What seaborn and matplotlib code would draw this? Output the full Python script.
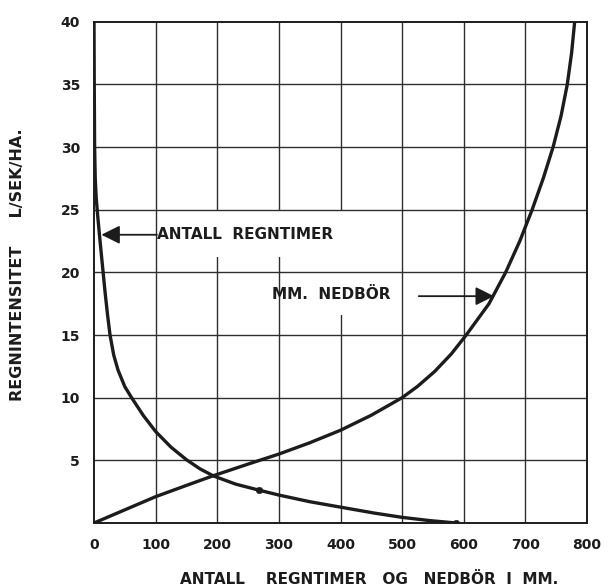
import matplotlib
matplotlib.use("Agg")
import matplotlib.pyplot as plt
from matplotlib.patches import Rectangle
import seaborn as sns

# ---- data ----
regntimer_x = [0, 0.4, 1, 2, 3.5, 6, 10, 14, 18, 22, 26, 32, 39, 50, 61, 80, 100,
               125, 150, 172, 194, 230, 267, 300, 350, 411, 455, 500, 545, 588]
regntimer_y = [40, 35, 30, 27.5, 26, 24.5, 22.4, 20.4, 18.4, 16.6, 15.0, 13.4, 12.2,
               10.88, 10.0, 8.58, 7.3, 6.05, 5.05, 4.32, 3.75, 3.10, 2.63, 2.23, 1.70,
               1.17, 0.79, 0.45, 0.19, 0]

nedbor_x = [0, 50, 100, 150, 194, 250, 300, 350, 400, 450, 500, 525, 553, 580, 604,
            641, 668, 691, 711, 729, 745, 758, 768, 775, 780]
nedbor_y = [0, 1.05, 2.1, 3.0, 3.78, 4.7, 5.5, 6.4, 7.4, 8.6, 10.0, 10.9, 12.1, 13.5,
            15.0, 17.5, 20.0, 22.5, 25.0, 27.5, 30.0, 32.5, 35.0, 37.5, 40.0]

dots_x = [267, 588]
dots_y = [2.63, 0]

xticks = [0, 100, 200, 300, 400, 500, 600, 700, 800]
xticklabels = ["0", "100", "200", "300", "400", "500", "600", "700", "800"]
yticks = [5, 10, 15, 20, 25, 30, 35, 40]
yticklabels = ["5", "10", "15", "20", "25", "30", "35", "40"]

label_regntimer = "ANTALL  REGNTIMER"
label_nedbor = "MM.  NEDBÖR"
xlabel = "ANTALL    REGNTIMER   OG   NEDBÖR  I  MM."
ylabel = "REGNINTENSITET     L/SEK/HA."

ink = "#1c1c1c"
grid_ink = "#2e2e2e"

sns.set_theme(style="white")
plt.rcParams["font.family"] = ["DejaVu Sans"]

fig = plt.figure(figsize=(6.08, 5.88), dpi=100)
ax = fig.add_axes([94 / 608, 65 / 588, 493 / 608, 501.3 / 588])
ax.set_xlim(0, 800)
ax.set_ylim(0, 40)

# grid: vertical lines, white gaps (as in the scan), then horizontal lines
ax.vlines(xticks[1:-1], 0, 40, colors=grid_ink, linewidth=1.0, zorder=1)
ax.add_patch(Rectangle((150, 21.2), 200, 3.8, facecolor="white", edgecolor="none", zorder=1.5))
ax.add_patch(Rectangle((380, 16.6), 40, 8.4, facecolor="white", edgecolor="none", zorder=1.5))
ax.hlines(yticks[:-1], 0, 800, colors=grid_ink, linewidth=1.0, zorder=2)

line_kw = dict(color=ink, linewidth=2.4, sort=False, estimator=None, zorder=4,
               solid_joinstyle="round", solid_capstyle="round")
sns.lineplot(x=regntimer_x, y=regntimer_y, ax=ax, **line_kw)
sns.lineplot(x=nedbor_x, y=nedbor_y, ax=ax, **line_kw)
sns.scatterplot(x=dots_x, y=dots_y, ax=ax, color=ink, s=22, edgecolor=ink, zorder=5)

# annotations
arrow_style = dict(arrowstyle="-|>,head_length=0.8,head_width=0.4", mutation_scale=14,
                   lw=1.3, color=ink, shrinkA=0, shrinkB=0)
ax.annotate("", xy=(12, 23.0), xytext=(102, 23.0), arrowprops=arrow_style, zorder=6)
ax.text(102, 23.0, label_regntimer, ha="left", va="center", fontsize=11,
        fontweight="bold", color=ink, zorder=6)
ax.annotate("", xy=(649, 18.1), xytext=(527, 18.1), arrowprops=arrow_style, zorder=6)
ax.text(289, 18.2, label_nedbor, ha="left", va="center", fontsize=11,
        fontweight="bold", color=ink, zorder=6)

# axes styling
for s in ax.spines.values():
    s.set_visible(True)
    s.set_color(ink)
    s.set_linewidth(1.4)
    s.set_zorder(3)

ax.set_xticks(xticks)
ax.set_xticklabels(xticklabels, fontsize=10, fontweight="bold", color=ink)
ax.set_yticks(yticks)
ax.set_yticklabels(yticklabels, fontsize=10, fontweight="bold", color=ink)
ax.tick_params(axis="both", length=0)
ax.tick_params(axis="x", pad=11)
ax.tick_params(axis="y", pad=10)

ax.set_xlabel(xlabel, fontsize=11, fontweight="bold", color=ink)
ax.xaxis.set_label_coords(0.558, -0.098)
ax.set_ylabel(ylabel, fontsize=11.5, fontweight="bold", color=ink)
ax.yaxis.set_label_coords(-0.14, 0.515)

fig.savefig("out.png", dpi=100, facecolor="white")
